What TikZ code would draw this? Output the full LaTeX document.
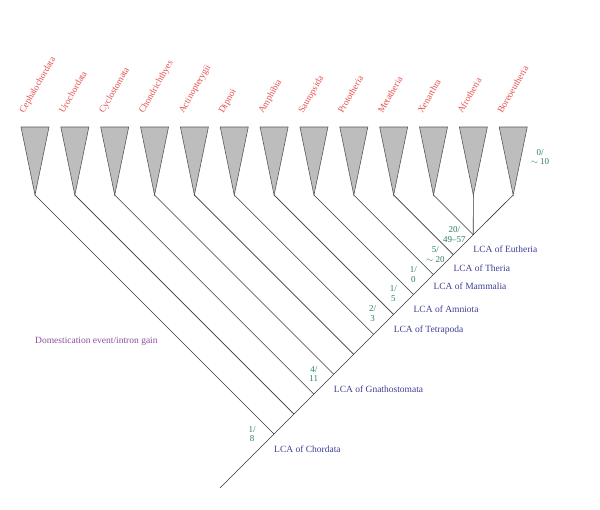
\documentclass[tikz,border=0pt]{standalone}
\usepackage{fontspec}
\setmainfont{Liberation Serif}
\definecolor{taxred}{HTML}{E8504E}
\definecolor{lcablue}{HTML}{3F3F99}
\definecolor{cntgreen}{HTML}{2E8060}
\definecolor{evpurple}{HTML}{8E4FA0}
\begin{document}
\begin{tikzpicture}[x=1pt,y=-1pt,
  branch/.style={draw=black!78, line width=0.6pt},
  clade/.style={fill=black!26, draw=black!65, line width=0.6pt, line join=miter},
  taxon/.style={text=taxred, font=\fontsize{9.3}{10}\selectfont, rotate=60, anchor=base west, inner sep=0pt},
  lca/.style={text=lcablue, font=\fontsize{9.5}{11}\selectfont, anchor=west, inner sep=0pt},
  count/.style={text=cntgreen, font=\fontsize{9}{9.6}\selectfont, align=center, inner sep=0pt},
  event/.style={text=evpurple, font=\fontsize{9.5}{11}\selectfont, anchor=west, inner sep=0pt}]
\fill[white] (0,0) rectangle (600,509);
\useasboundingbox (0,0) rectangle (600,509);
% clades (triangles) and taxon labels
\foreach \tx [count=\k] in {Cephalochordata,Urochordata,Cyclostomata,Chondrichthyes,Actinopterygii,Dipnoi,Amphibia,Sauropsida,Prototheria,Metatheria,Xenarthra,Afrotheria,Boreoeutheria} {
  \pgfmathsetmacro{\xi}{35+39.85*(\k-1)}
  \coordinate (tip\k) at (\xi,195);
  \filldraw[clade] (\xi-14,127) -- (\xi+14,127) -- (tip\k) -- cycle;
  \node[taxon] (tax\k) at (\xi-11,114) {\tx};
}
% internal nodes on the main diagonal
\foreach \k in {1,...,11} {
  \pgfmathsetmacro{\nx}{(513+35+39.85*(\k-1))/2}
  \pgfmathsetmacro{\ny}{708-\nx}
  \coordinate (n\k) at (\nx,\ny);
  \draw[branch] (tip\k) -- (n\k);
}
\draw[branch] (tip12) -- (n11);
\draw[branch] (tip13) -- (n11);
\coordinate (root) at (220,488);
\draw[branch] (root) -- (n11);
% counts
\node[count] (c1) at ([xshift=-22pt]n1) {1/\\8};
\node[count] (c4) at ([xshift=-20pt]n4) {4/\\11};
\node[count] (c7) at ([xshift=-21pt,yshift=1pt]n7) {2/\\3};
\node[count] (c8) at ([xshift=-20pt,yshift=1pt]n8) {1/\\5};
\node[count] (c9) at ([xshift=-20pt]n9) {1/\\0};
\node[count] (c10) at ([xshift=-18pt]n10) {5/\\$\sim$ 20};
\node[count] (c11) at ([xshift=-19pt]n11) {20/\\49--57};
\node[count] (c0) at (540,157) {0/\\$\sim$ 10};
% LCA labels
\node[lca] (l1) at ([yshift=-15pt]n1) {LCA of Chordata};
\node[lca] (l4) at ([yshift=-15pt]n4) {LCA of Gnathostomata};
\node[lca] (l7) at ([yshift=-16pt]n7) {LCA of Tetrapoda};
\node[lca] (l8) at ([yshift=-15pt]n8) {LCA of Amniota};
\node[lca] (l9) at ([yshift=-12pt]n9) {LCA of Mammalia};
\node[lca] (l10) at ([yshift=-14pt]n10) {LCA of Theria};
\node[lca] (l11) at ([yshift=-14pt]n11) {LCA of Eutheria};
% event label
\node[event] (ev) at (35,341) {Domestication event/intron gain};
\end{tikzpicture}
\end{document}
